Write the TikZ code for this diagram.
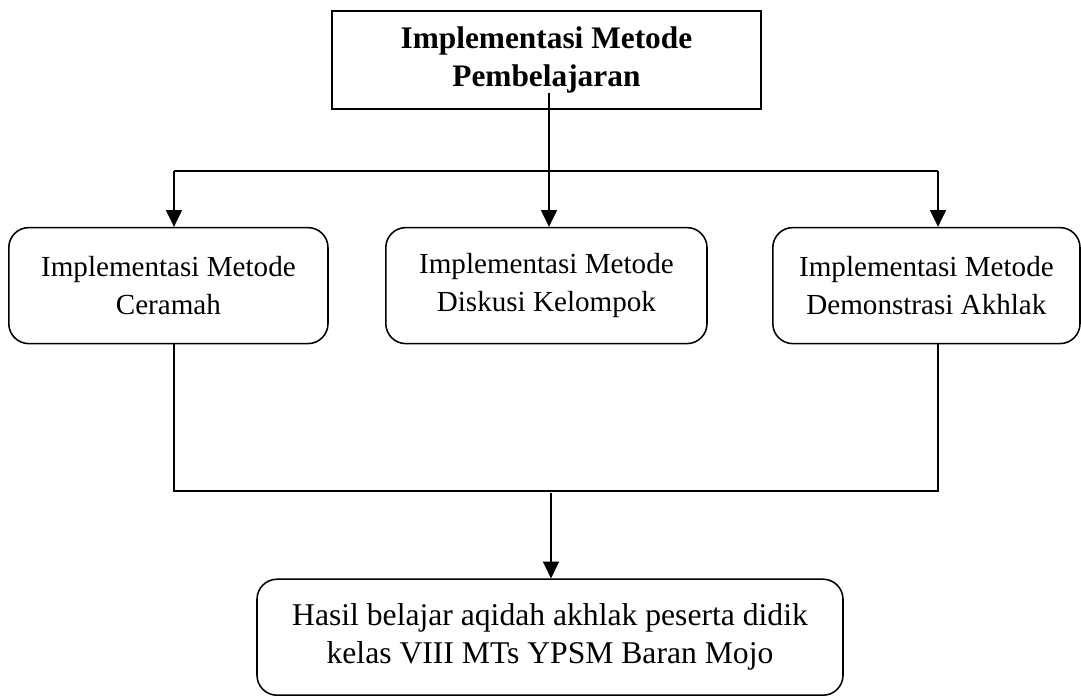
\documentclass[tikz,border=0pt]{standalone}
\usepackage{fontspec}
\setmainfont{Liberation Serif}
\usetikzlibrary{positioning,arrows.meta}

\begin{document}
\begin{tikzpicture}[on grid,
    judulbox/.style={draw, line width=1.4pt, minimum width=10.72cm,
      minimum height=2.45cm, align=center,
      font=\fontsize{22.3}{27}\selectfont\bfseries},
    metode/.style={draw, line width=1.1pt, rounded corners=0.5cm,
      minimum height=2.9cm, align=center,
      font=\fontsize{20.7}{27}\selectfont},
    garis/.style={line width=1.1pt},
    panah/.style={garis, -{Triangle[width=0.4cm,length=0.42cm]}}
  ]
  \useasboundingbox (0,0) rectangle (27.025,-17.45);

  \node[judulbox] (judul) at (13.66,-1.5) {Implementasi Metode\\Pembelajaran};
  \node[metode, minimum width=8.03cm] (diskusi) [below=5.64cm of judul]
    {Implementasi Metode\\Diskusi Kelompok};
  \node[metode, minimum width=7.98cm] (ceramah) [left=9.45cm of diskusi]
    {Implementasi Metode\\Ceramah};
  \node[metode, minimum width=7.68cm] (demonstrasi) [right=9.5cm of diskusi]
    {Implementasi Metode\\Demonstrasi Akhlak};
  \node[metode, minimum width=14.65cm, font=\fontsize{22.5}{27}\selectfont]
    (hasil) at (13.75,-15.93)
    {Hasil belajar aqidah akhlak peserta didik\\kelas VIII MTs YPSM Baran Mojo};

  % titik cabang
  \coordinate (pusat) at (13.725,-2.325);
  \coordinate (kiriatas) at (4.35,-4.275);
  \coordinate (kananatas) at (23.45,-4.275);
  \coordinate (kiribawah) at (4.35,-12.27);
  \coordinate (kananbawah) at (23.45,-12.27);
  \coordinate (tengahbawah) at (13.775,-12.33);

  \draw[garis] (kiriatas) -- (kananatas);
  \draw[panah] (pusat) -- (pusat |- diskusi.north);
  \draw[panah] (kiriatas) -- (kiriatas |- ceramah.north);
  \draw[panah] (kananatas) -- (kananatas |- demonstrasi.north);
  \draw[garis] (kiriatas |- ceramah.south) -- (kiribawah) -- (kananbawah)
    -- (kananatas |- demonstrasi.south);
  \draw[panah] (tengahbawah) -- (tengahbawah |- hasil.north);
\end{tikzpicture}
\end{document}
